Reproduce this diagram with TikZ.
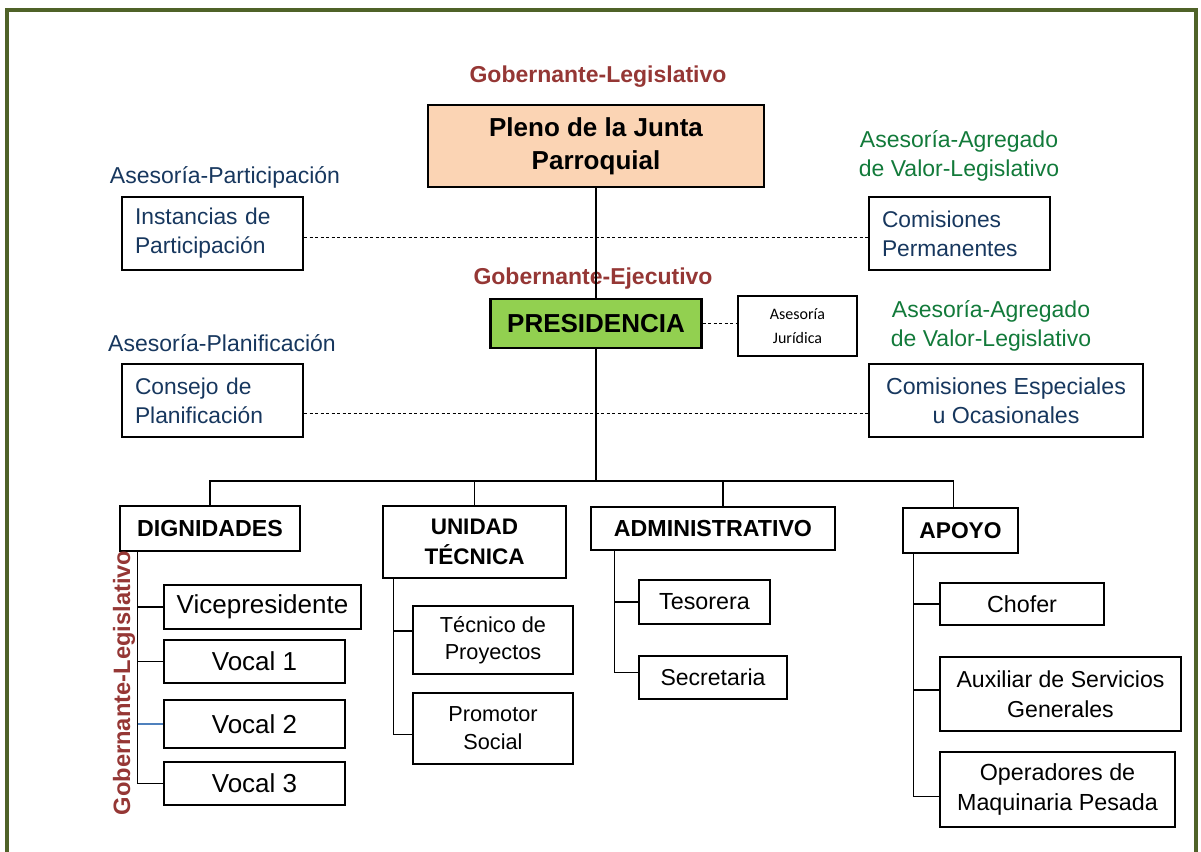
\documentclass[tikz,border=0pt]{standalone}
\usepackage{fontspec}
\setmainfont{Liberation Sans}
\newfontfamily\calfont{Carlito}
\usetikzlibrary{positioning,calc}
\definecolor{frame}{HTML}{4F6228}
\definecolor{gobred}{HTML}{953735}
\definecolor{asnavy}{HTML}{17375E}
\definecolor{asgreen}{HTML}{127A3A}
\definecolor{peach}{HTML}{FBD4B4}
\definecolor{presgreen}{HTML}{92D050}
\definecolor{linkblue}{HTML}{4F81BD}
\newcommand{\fs}[2]{\fontsize{#1}{#2}\selectfont}

\begin{document}
\begin{tikzpicture}[x=1pt,y=-1pt,
    box/.style={draw=black,line width=2.4pt,inner sep=0pt,align=center},
    leftbox/.style={box,align=left,inner xsep=13pt,inner ysep=0pt},
    head/.style={font=\fs{23}{29}\bfseries,text=gobred,inner sep=0pt},
    asesor/.style={font=\fs{23}{29},inner sep=0pt,align=center},
    link/.style={line width=1.4pt},
    dotted link/.style={line width=1pt,dash pattern=on 3pt off 2.5pt}]
\useasboundingbox (0,0) rectangle (1201,851);
\draw [frame,line width=4.5pt] (7,10) rectangle (1196,880);

% governing level
\node [head] (tgl) at (598,77) {Gobernante-Legislativo};
\node [box,fill=peach,minimum width=336pt,minimum height=82pt,font=\fs{26}{33}\bfseries] (pleno) at (596,146) {Pleno de la Junta\\Parroquial};

\node [asesor,text=asnavy] (tap1) at (225,177) {Asesoría-Participación};
\node [leftbox,text=asnavy,text width=155pt,minimum height=73pt,font=\fs{22.8}{29}] (inst) at (212.5,233.5) {Instancias de\\Participación};
\node [asesor,text=asgreen] (tag1) at (959,156) {Asesoría-Agregado\\de Valor-Legislativo};
\node [leftbox,text=asnavy,text width=155pt,minimum height=73pt,font=\fs{22.8}{29}] (comper) at (959.5,233.5) {Comisiones\\Permanentes};

% executive level
\node [head] (tge) at (593,279) {Gobernante-Ejecutivo};
\node [box,fill=presgreen,minimum width=211pt,minimum height=49pt,font=\fs{26}{30}\bfseries] (presi) at (596,323.5) {PRESIDENCIA};
\node [box,line width=2pt,minimum width=119pt,minimum height=60pt,font=\calfont\fs{16}{24}] (jur) at (797.5,326) {Asesoría\\Jurídica};
\node [asesor,text=asgreen] (tag2) at (991,326) {Asesoría-Agregado\\de Valor-Legislativo};

\node [asesor,text=asnavy] (tap2) at (222,343) {Asesoría-Planificación};
\node [leftbox,text=asnavy,text width=155pt,minimum height=73pt,font=\fs{22.8}{29}] (cons) at (212.5,400.5) {Consejo de\\Planificación};
\node [box,text=asnavy,minimum width=274pt,minimum height=73pt,font=\fs{23.2}{29}] (comesp) at (1006,400.5) {Comisiones Especiales\\u Ocasionales};

\draw [link] (pleno) -- (presi);
\draw [dotted link] (inst.east |- 0,237) -- (comper.west |- 0,237);
\draw [dotted link] (presi.east) -- (jur.west |- presi.east);
\draw [dotted link] (cons.east |- 0,413) -- (comesp.west |- 0,413);

% departments
\node [box,minimum width=180pt,minimum height=45pt,font=\fs{23.2}{29}\bfseries] (dign) at (210,528.5) {DIGNIDADES};
\node [box,minimum width=183pt,minimum height=72pt,font=\fs{22.5}{30}\bfseries] (unid) at (474.5,542) {UNIDAD\\TÉCNICA};
\node [box,minimum width=244pt,minimum height=43pt,font=\fs{23.2}{29}\bfseries] (admin) at (713,528.5) {ADMINISTRATIVO};
\node [box,minimum width=115pt,minimum height=45pt,font=\fs{22.8}{29}\bfseries] (apoyo) at (960.5,530.5) {APOYO};

\coordinate (bus) at (596,481);
\draw [link] (presi) -- (bus);
\draw [link] (dign.north) |- (bus) -| ([xshift=-7pt]apoyo.north);
\draw [link] (unid.north) -- (unid.north |- bus);
\draw [link] ([xshift=10pt]admin.north) -- ([xshift=10pt]admin.north |- bus);

% dignidades
\node [box,minimum width=197pt,minimum height=44pt,font=\fs{26}{30}] (vice) at (262.5,607) {Vicepresidente};
\node [box,minimum width=181pt,minimum height=43pt,font=\fs{26}{30}] (voc1) at (254.5,661.5) {Vocal 1};
\node [box,minimum width=181pt,minimum height=48pt,font=\fs{26}{30}] (voc2) at (254.5,724) {Vocal 2};
\node [box,minimum width=181pt,minimum height=43pt,font=\fs{26}{30}] (voc3) at (254.5,783.5) {Vocal 3};
\coordinate (dtr) at ([xshift=19pt]dign.south west);
\draw [link,line width=1.1pt] (dtr) |- (voc3.west);
\draw [link,line width=1.1pt] (vice.west) -- (vice.west -| dtr);
\draw [link,line width=1.1pt] (voc1.west) -- (voc1.west -| dtr);
\draw [link,line width=1.1pt,linkblue] (voc2.west) -- (voc2.west -| dtr);
\node [head,font=\fs{23.7}{29}\bfseries,rotate=90] (tgl2) at (124,683) {Gobernante-Legislativo};

% unidad tecnica
\node [box,minimum width=160pt,minimum height=68pt,font=\fs{21.7}{27}] (tec) at (493,640) {Técnico de\\Proyectos};
\node [box,minimum width=160pt,minimum height=71pt,font=\fs{21.7}{28}] (prom) at (493,728.5) {Promotor\\Social};
\coordinate (utr) at ([xshift=12pt]unid.south west);
\draw [link,line width=1.1pt] (utr) |- ([yshift=-6pt]prom.west);
\draw [link,line width=1.1pt] ([yshift=9pt]tec.west) -- ([yshift=9pt]tec.west -| utr);

% administrativo
\node [box,minimum width=131pt,minimum height=44pt,font=\fs{23.3}{29}] (tes) at (704.5,602) {Tesorera};
\node [box,minimum width=148pt,minimum height=43pt,font=\fs{23}{29}] (sec) at (713,677.5) {Secretaria};
\coordinate (atr) at ([xshift=25pt]admin.south west);
\draw [link,line width=1.1pt] (atr) |- ([yshift=5pt]sec.west);
\draw [link,line width=1.1pt] (tes.west) -- (tes.west -| atr);

% apoyo
\node [box,minimum width=164pt,minimum height=42pt,font=\fs{23.3}{29}] (chof) at (1022,604) {Chofer};
\node [box,minimum width=241pt,minimum height=74pt,font=\fs{23.1}{30}] (aux) at (1060.5,694) {Auxiliar de Servicios\\Generales};
\node [box,minimum width=235pt,minimum height=75pt,font=\fs{23.3}{30}] (oper) at (1057.5,789.5) {Operadores de\\Maquinaria Pesada};
\coordinate (ptr) at ([xshift=12pt]apoyo.south west);
\draw [link,line width=1.1pt] (ptr) |- ([yshift=-7pt]oper.west);
\draw [link,line width=1.1pt] (chof.west) -- (chof.west -| ptr);
\draw [link,line width=1.1pt] ([yshift=4pt]aux.west) -- ([yshift=4pt]aux.west -| ptr);
\end{tikzpicture}
\end{document}
